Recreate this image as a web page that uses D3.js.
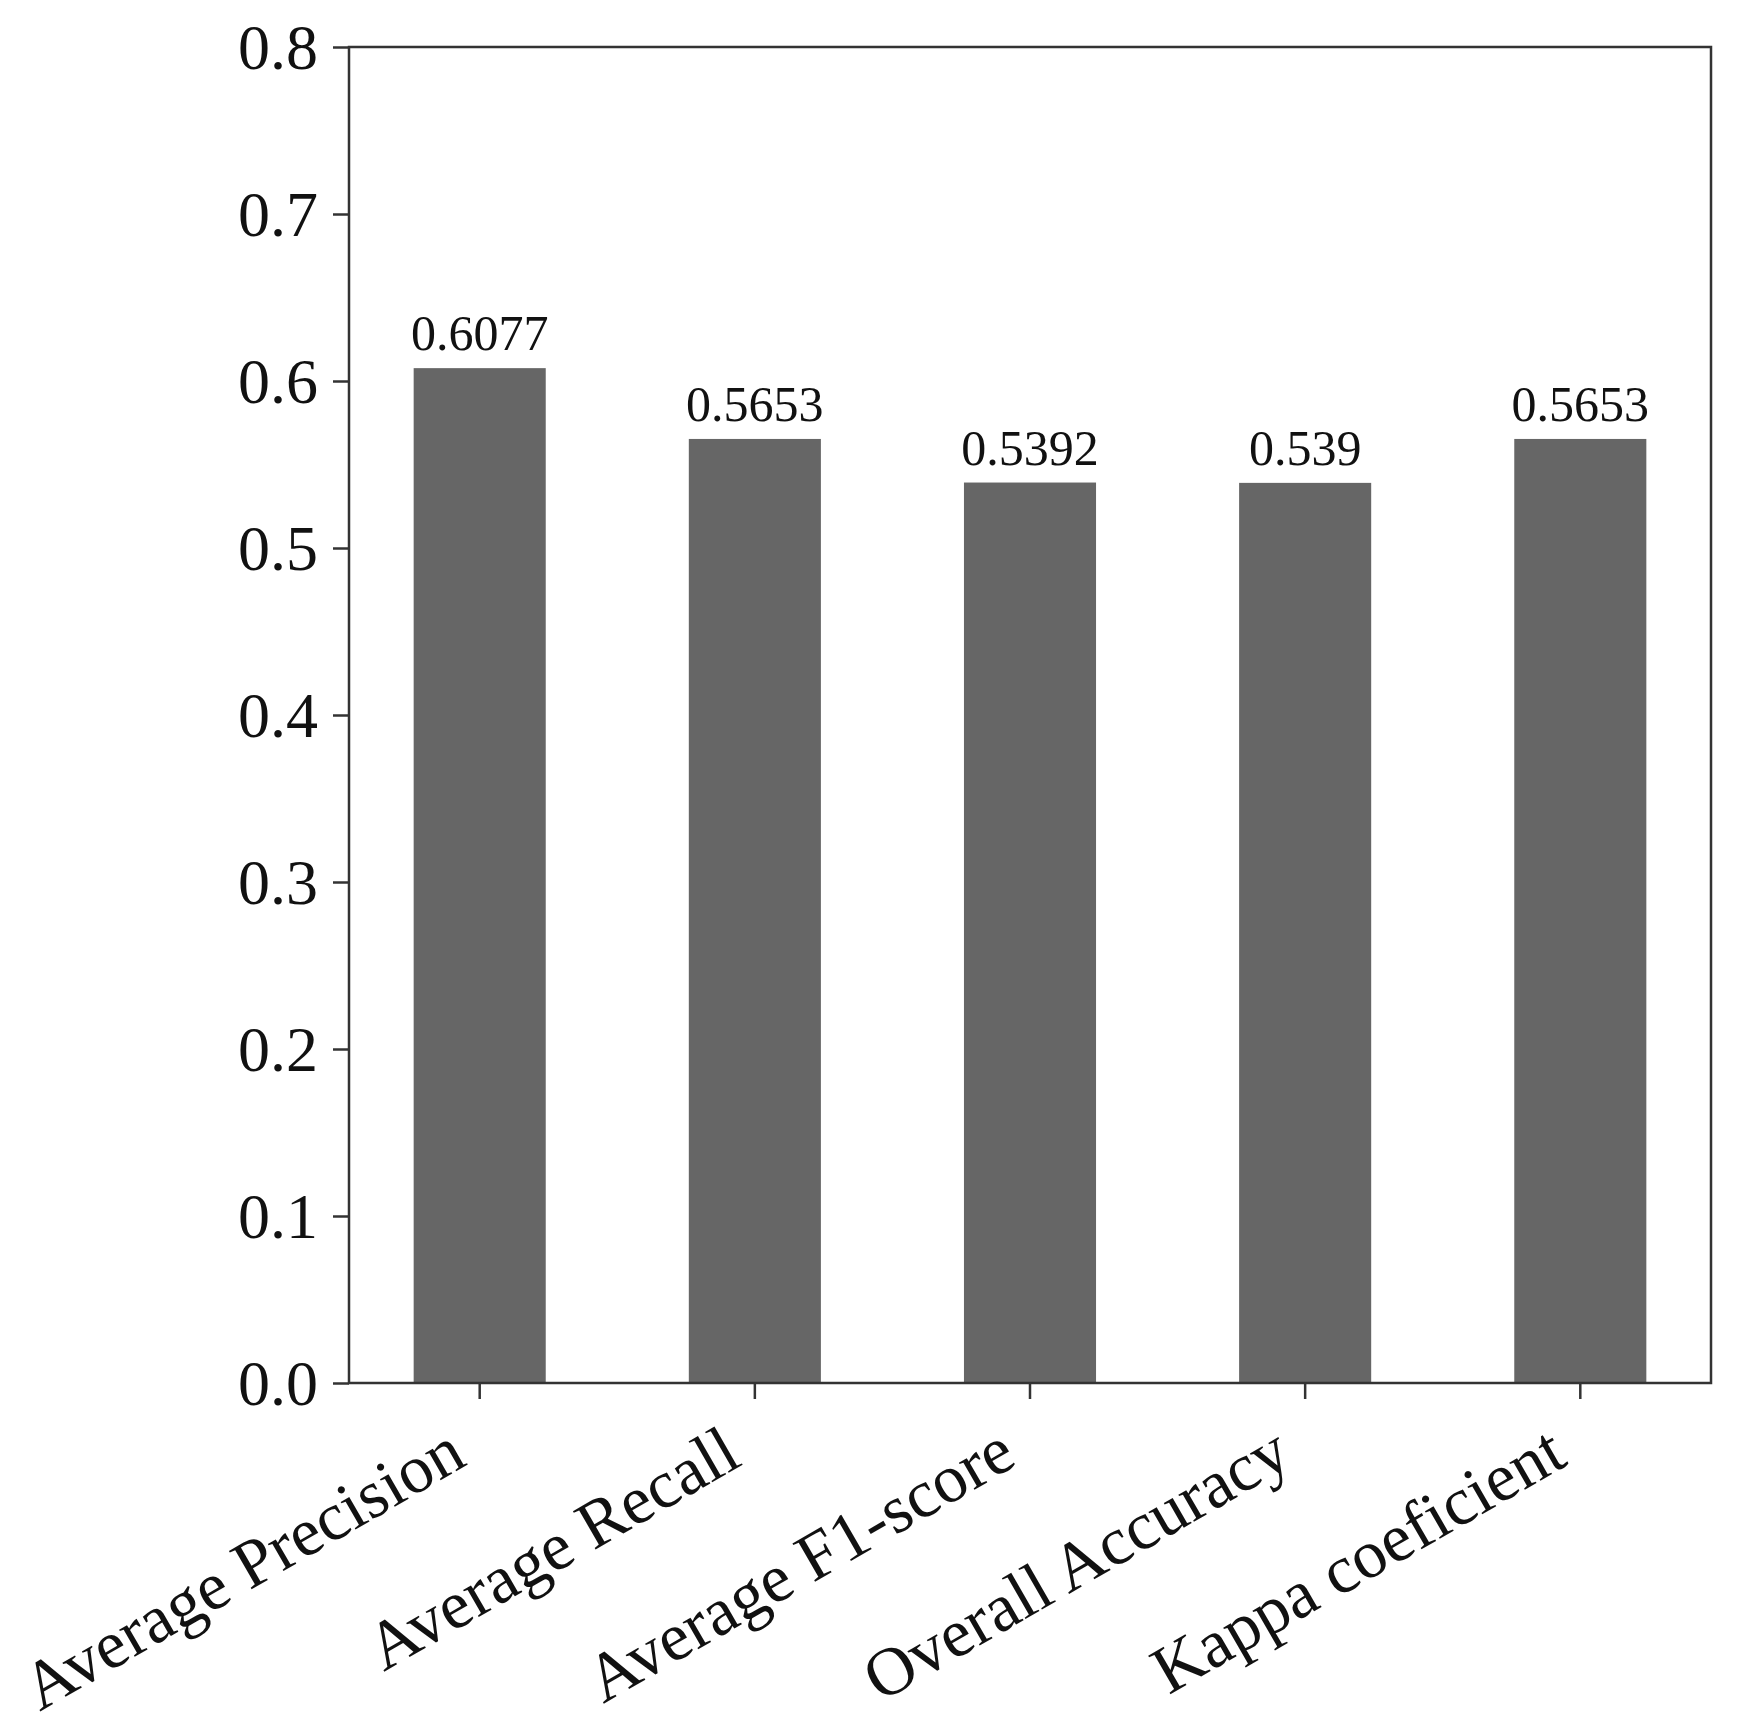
<!DOCTYPE html>
<html>
<head>
<meta charset="utf-8">
<script src="https://cdn.jsdelivr.net/npm/d3@7"></script>
<style>
  body { margin: 0; background: #fff; }
  svg { display: block; }
  text { font-family: "Palatino Linotype", "Book Antiqua", Palatino, "Liberation Serif", serif; fill: #111; }
</style>
</head>
<body>
<div id="chart"></div>
<script>
// data
const categories = ["Average Precision", "Average Recall", "Average F1-score", "Overall Accuracy", "Kappa coeficient"];
const values = [0.6077, 0.5653, 0.5392, 0.539, 0.5653];
const valueLabels = ["0.6077", "0.5653", "0.5392", "0.539", "0.5653"];
const yTicks = [0, 0.1, 0.2, 0.3, 0.4, 0.5, 0.6, 0.7, 0.8];

const width = 1740, height = 1736;
const plotLeft = 349, plotRight = 1711, plotTop = 47, plotBottom = 1383;

const svg = d3.select("#chart").append("svg")
    .attr("width", width)
    .attr("height", height);

const x = d3.scaleBand()
    .domain(categories)
    .range([plotLeft, plotRight])
    .paddingInner(0.52)
    .paddingOuter(0.235);

const y = d3.scaleLinear()
    .domain([0, 0.8])
    .range([plotBottom, plotTop]);

// bars
svg.selectAll("rect.bar")
    .data(values)
    .enter()
    .append("rect")
    .classed("bar", true)
    .attr("x", (d, i) => x(categories[i]))
    .attr("width", x.bandwidth())
    .attr("y", d => y(d))
    .attr("height", d => y(0) - y(d))
    .attr("fill", "#666666")

// value labels on top
svg.selectAll("text.val")
    .data(values)
    .enter()
    .append("text")
    .classed("val", true)
    .attr("x", (d, i) => x(categories[i]) + x.bandwidth() / 2)
    .attr("y", d => y(d) - 18)
    .attr("text-anchor", "middle")
    .style("font-size", "50px")
    .text((d, i) => valueLabels[i])

// y axis
const yAxis = svg.append("g")
    .attr("transform", `translate(${plotLeft},0)`)
    .call(d3.axisLeft(y).tickValues(yTicks).tickFormat(d3.format(".1f")).tickSize(16).tickPadding(15))
yAxis.select(".domain").remove()
yAxis.selectAll(".tick line").attr("stroke", "#333").attr("stroke-width", 2.5)
yAxis.selectAll(".tick text")
    .style("font-size", "64px")
    .attr("dy", "0.34em")
    .attr("fill", "#111")

// x axis
const xAxis = svg.append("g")
    .attr("transform", `translate(0,${plotBottom})`)
    .call(d3.axisBottom(x).tickSize(16).tickFormat(""))
xAxis.select(".domain").remove()
xAxis.selectAll(".tick line").attr("stroke", "#333").attr("stroke-width", 2.5)

svg.selectAll("text.xlab")
    .data(categories)
    .enter()
    .append("text")
    .classed("xlab", true)
    .attr("text-anchor", "end")
    .attr("transform", d => `translate(${x(d) + x.bandwidth() / 2 - 11},${plotBottom + 81}) rotate(-30)`)
    .style("font-size", "68px")
    .text(d => d)

// frame
svg.append("rect")
    .attr("x", plotLeft)
    .attr("y", plotTop)
    .attr("width", plotRight - plotLeft)
    .attr("height", plotBottom - plotTop)
    .attr("fill", "none")
    .attr("stroke", "#333")
    .attr("stroke-width", 2.5)
</script>
</body>
</html>
